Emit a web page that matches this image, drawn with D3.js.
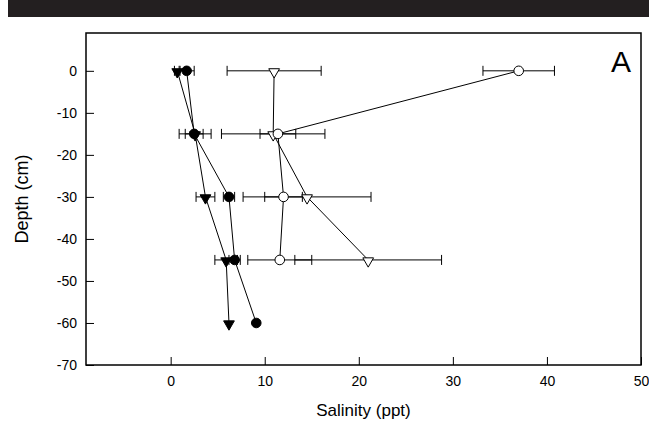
<!DOCTYPE html>
<html lang="en">
<head>
  <meta charset="UTF-8">
  <title>Salinity profile</title>
  <script src="https://cdn.jsdelivr.net/npm/d3@7/dist/d3.min.js"></script>
  <style>
    body { margin: 0; background: #fff; }
    svg text { font-family: "Liberation Sans", Arial, sans-serif; fill: #000; }
  </style>
</head>
<body>
  <div id="main"></div>
  <script>
    // depths (cm)
    var depths = [0, -15, -30, -45, -60];
    var xTicks = [0, 10, 20, 30, 40, 50];
    var yTicks = [0, -10, -20, -30, -40, -50, -60, -70];

    var filledCircleMean = [1.7, 2.5, 6.2, 6.8, 9.1];
    var filledCircleSd = [0.8, 0.95, 0.6, 0.6, 0];
    var filledTriMean = [0.7, 2.6, 3.7, 5.9, 6.2];
    var filledTriSd = [0.3, 1.7, 1.0, 1.2, 0];
    var openCircleMean = [37.0, 11.4, 12.0, 11.6, null];
    var openCircleSd = [3.8, 1.9, 2.0, 3.4, null];
    var openTriMean = [11.0, 10.9, 14.5, 21.0, null];
    var openTriSd = [5.0, 5.5, 6.8, 7.8, null];

    (function () {
      var W = 649, H = 425;
      var mLeft = 86, mRight = 641, mTop = 33, mBottom = 365;

      var svg = d3.select("#main").append("svg")
        .attr("width", W)
        .attr("height", H);

      // black band across the top
      svg.append("rect")
        .attr("x", 8).attr("y", 0)
        .attr("width", W - 8).attr("height", 17)
        .attr("fill", "#231f20");

      var x = d3.scaleLinear().domain([-9, 50]).range([mLeft, mRight]);
      var y = d3.scaleLinear().domain([-70, 9]).range([mBottom, mTop]);
      var fmt = function (d) { return String(d); }; // plain hyphen minus

      var gx = svg.append("g")
        .attr("transform", "translate(0," + mBottom + ")")
        .call(d3.axisBottom(x).tickValues(xTicks).tickFormat(fmt)
          .tickSizeInner(-8).tickSizeOuter(0).tickPadding(11));
      var gy = svg.append("g")
        .attr("transform", "translate(" + mLeft + ",0)")
        .call(d3.axisLeft(y).tickValues(yTicks).tickFormat(fmt)
          .tickSizeInner(-8).tickSizeOuter(0).tickPadding(9));
      [gx, gy].forEach(function (g) {
        g.attr("font-family", null).attr("font-size", null);
        g.select(".domain").remove();
        g.selectAll("line").attr("stroke", "#000").attr("stroke-width", 1);
        g.selectAll("text").attr("fill", "#000").style("font-size", "14px");
      });

      // frame
      svg.append("rect")
        .attr("x", mLeft).attr("y", mTop)
        .attr("width", mRight - mLeft).attr("height", mBottom - mTop)
        .attr("fill", "none")
        .attr("stroke", "#000")
        .attr("stroke-width", 1.5);

      // titles
      svg.append("text")
        .attr("x", (mLeft + mRight) / 2)
        .attr("y", 416)
        .attr("text-anchor", "middle")
        .style("font-size", "17px")
        .text("Salinity (ppt)");
      svg.append("text")
        .attr("transform", "translate(28," + (mTop + mBottom) / 2 + ") rotate(-90)")
        .attr("text-anchor", "middle")
        .style("font-size", "18px")
        .text("Depth (cm)");
      svg.append("text")
        .attr("x", 631)
        .attr("y", 72)
        .attr("text-anchor", "end")
        .style("font-size", "30px")
        .text("A");

      function rows(means, sds) {
        var out = [];
        depths.forEach(function (d, i) {
          if (means[i] != null) out.push({ depth: d, mean: means[i], sd: sds[i] });
        });
        return out;
      }

      var series = [
        { data: rows(openTriMean, openTriSd), shape: "tri", fill: "#fff" },
        { data: rows(openCircleMean, openCircleSd), shape: "circle", fill: "#fff" },
        { data: rows(filledTriMean, filledTriSd), shape: "tri", fill: "#000" },
        { data: rows(filledCircleMean, filledCircleSd), shape: "circle", fill: "#000" }
      ];

      var line = d3.line()
        .x(function (d) { return x(d.mean); })
        .y(function (d) { return y(d.depth); });

      var plot = svg.append("g");

      // error bars first
      series.forEach(function (s) {
        var eb = plot.append("g").attr("stroke", "#000").attr("stroke-width", 1);
        s.data.filter(function (d) { return d.sd > 0; }).forEach(function (d) {
          var yy = y(d.depth);
          eb.append("line")
            .attr("x1", x(d.mean - d.sd)).attr("x2", x(d.mean + d.sd))
            .attr("y1", yy).attr("y2", yy);
          [d.mean - d.sd, d.mean + d.sd].forEach(function (v) {
            eb.append("line")
              .attr("x1", x(v)).attr("x2", x(v))
              .attr("y1", yy - 5).attr("y2", yy + 5);
          });
        });
      });

      // connecting lines
      series.forEach(function (s) {
        plot.append("path")
          .datum(s.data)
          .attr("d", line)
          .attr("fill", "none")
          .attr("stroke", "#000")
          .attr("stroke-width", 1);
      });

      // markers
      var triPath = d3.symbol().type(d3.symbolTriangle).size(50)();
      series.forEach(function (s) {
        var g = plot.append("g");
        s.data.forEach(function (d) {
          if (s.shape == "circle") {
            g.append("circle")
              .attr("cx", x(d.mean)).attr("cy", y(d.depth))
              .attr("r", 4.8)
              .attr("fill", s.fill)
              .attr("stroke", "#000")
              .attr("stroke-width", 1);
          } else {
            g.append("path")
              .attr("d", triPath)
              .attr("transform", "translate(" + x(d.mean) + "," + (y(d.depth) + 1) + ") rotate(180)")
              .attr("fill", s.fill)
              .attr("stroke", "#000")
              .attr("stroke-width", 1);
          }
        });
      });
    })();
  </script>
</body>
</html>
